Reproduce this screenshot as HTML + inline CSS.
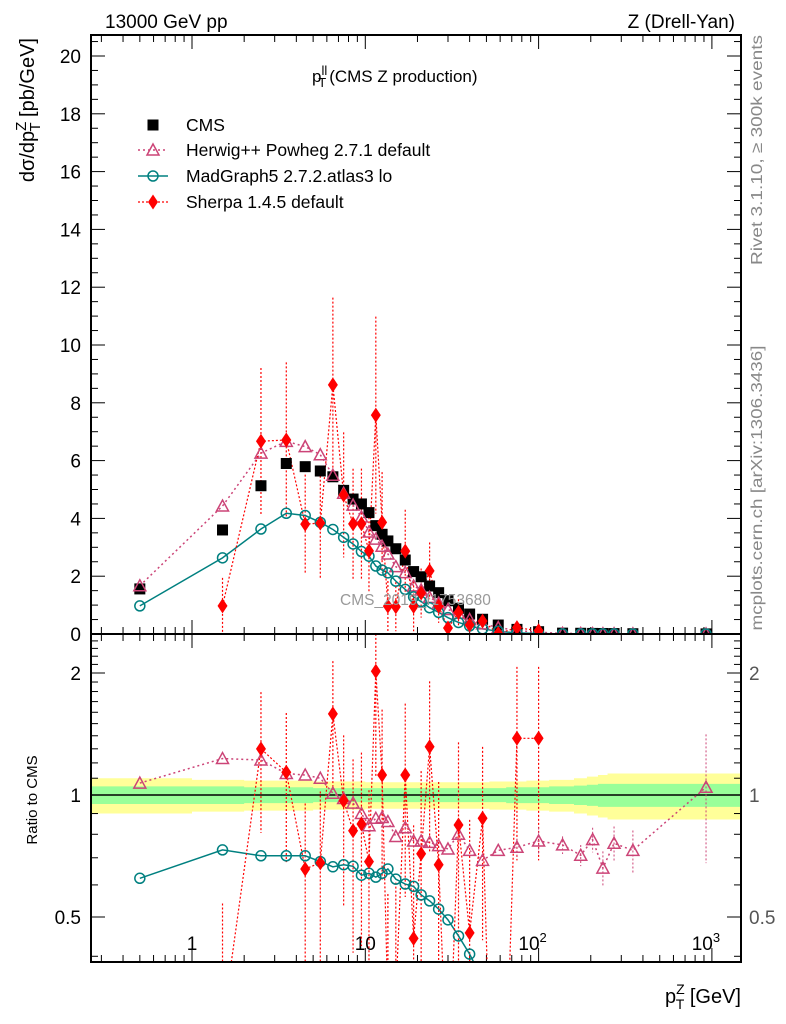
<!DOCTYPE html>
<html><head><meta charset="utf-8"><style>
html,body{margin:0;background:#fff;overflow:hidden;width:786px;height:1024px}
svg{display:block;font-family:"Liberation Sans",sans-serif}
</style></head><body>
<svg id="c" width="786" height="1024" viewBox="0 0 786 1024">
<defs>
<clipPath id="cm"><rect x="91" y="35" width="650" height="599"/></clipPath>
<clipPath id="cr"><rect x="91" y="634" width="650" height="328"/></clipPath>
</defs>
<g id="bands" clip-path="url(#cr)"></g>
<g id="grid"></g>
<g id="mainMarks" clip-path="url(#cm)"></g>
<g id="ratioMarks" clip-path="url(#cr)"></g>
<rect x="91" y="35" width="650" height="599" fill="none" stroke="#000" stroke-width="2"/>
<rect x="91" y="634" width="650" height="328" fill="none" stroke="#000" stroke-width="2"/>
<text x="105" y="28" font-size="19">13000 GeV pp</text>
<text x="735" y="28" font-size="19" text-anchor="end">Z (Drell-Yan)</text>
<text x="312" y="82" font-size="17">p<tspan font-size="13" dy="-7">ll</tspan><tspan font-size="13" dx="-9" dy="12">T</tspan><tspan dy="-5" dx="3">(CMS Z production)</tspan></text>
<text x="340" y="605" font-size="15.5" fill="#999">CMS_2019_I1753680</text>
<text transform="translate(762,150) rotate(-90)" font-size="16" fill="#888" text-anchor="middle" textLength="230" lengthAdjust="spacingAndGlyphs">Rivet 3.1.10, ≥ 300k events</text>
<text transform="translate(762,488) rotate(-90)" font-size="16" fill="#888" text-anchor="middle" textLength="285" lengthAdjust="spacingAndGlyphs">mcplots.cern.ch [arXiv:1306.3436]</text>
<text transform="translate(34,38) rotate(-90)" font-size="20" text-anchor="end">dσ/dp<tspan font-size="15" dy="-8">Z</tspan><tspan font-size="15" dx="-10" dy="14">T</tspan><tspan dy="-6"> [pb/GeV]</tspan></text>
<text transform="translate(37,800) rotate(-90)" font-size="15" text-anchor="middle">Ratio to CMS</text>
<text x="741" y="1003" font-size="20" text-anchor="end">p<tspan font-size="14" dy="-9">Z</tspan><tspan font-size="14" dx="-9" dy="15">T</tspan><tspan dy="-6"> [GeV]</tspan></text>
<g id="legend" font-size="17.5"></g>
</svg>
<script>
const xCenters=[0.5,1.5,2.5,3.5,4.5,5.5,6.5,7.5,8.5,9.5,10.5,11.5,12.5,13.5,15,17,19,21,23.5,26.5,30,34.5,40,47.5,58.5,75,100,137.5,175,205,235,272.5,350,925];
const binEdges=[0.2,1,2,3,4,5,6,7,8,9,10,11,12,13,14,16,18,20,22,25,28,32,37,43,52,65,85,115,160,190,220,250,300,400,1500];
const cmsValues=[1.56,3.6,5.13,5.9,5.79,5.64,5.44,4.97,4.67,4.5,4.2,3.75,3.45,3.22,2.95,2.56,2.16,1.98,1.66,1.43,1.15,0.89,0.69,0.51,0.31,0.16,0.08,0.03,0.025,0.02,0.018,0.015,0.01,0.004];
const herwigRatio=[1.07,1.23,1.22,1.13,1.12,1.10,1.01,0.98,0.955,0.90,0.84,0.876,0.88,0.86,0.79,0.83,0.77,0.77,0.764,0.75,0.736,0.80,0.73,0.69,0.73,0.743,0.77,0.753,0.71,0.776,0.66,0.76,0.73,1.045];
const herwigRelErr=[0,0,0,0,0,0,0,0,0,0,0,0,0,0,0,0,0,0,0,0,0,0,0,0,0,0.05,0.08,0.05,0.06,0.07,0.1,0.1,0.12,0.35];
const madgraphRatio=[0.623,0.732,0.708,0.708,0.708,0.685,0.665,0.673,0.667,0.634,0.641,0.627,0.641,0.657,0.62,0.603,0.595,0.567,0.548,0.523,0.492,0.449,0.405,0.35,0.3,0.25,0.2,0.2,0.2,0.2,0.2,0.2,0.2,0.2];
const sherpaRatio=[null,0.27,1.30,1.138,0.657,0.68,1.585,0.968,0.816,0.848,0.685,2.02,1.12,0.30,0.32,1.12,0.443,0.716,1.315,0.673,0.18,0.843,0.457,0.876,0.05,1.38,1.38];
const sherpaRelErr=[0,1,0.38,0.4,0.45,0.5,0.35,0.45,0.5,0.5,0.5,0.45,0.45,0.9,0.9,0.5,0.9,0.6,0.45,0.6,1,0.6,0.9,0.5,1,0.5,0.5];
const yellowErr=[0.10,0.09,0.085,0.085,0.085,0.08,0.08,0.08,0.08,0.08,0.075,0.075,0.075,0.075,0.075,0.075,0.075,0.075,0.075,0.075,0.075,0.075,0.075,0.075,0.08,0.08,0.085,0.09,0.1,0.11,0.12,0.13,0.13,0.13];
const greenErr=[0.05,0.05,0.045,0.045,0.045,0.04,0.04,0.04,0.04,0.04,0.04,0.04,0.04,0.04,0.04,0.04,0.04,0.04,0.04,0.04,0.04,0.04,0.04,0.04,0.04,0.045,0.045,0.05,0.055,0.06,0.065,0.065,0.065,0.065];
const mainYTicks=[0,2,4,6,8,10,12,14,16,18,20];
const ratioYTicks=[0.5,1,2];

const NS='http://www.w3.org/2000/svg';
const fx=v=>192+173.3*Math.log10(v);
const fy=v=>634-28.9*v;
const fr=r=>795-405.3*Math.log10(r);
function mk(tag,attrs,parent){const e=document.createElementNS(NS,tag);for(const k in attrs)e.setAttribute(k,attrs[k]);parent.appendChild(e);return e;}
const grid=document.getElementById('grid'),mm=document.getElementById('mainMarks'),rm=document.getElementById('ratioMarks'),bands=document.getElementById('bands'),leg=document.getElementById('legend');

function bandPath(err){let top='',bot='';for(let i=0;i<xCenters.length;i++){const x0=Math.max(91,fx(binEdges[i])),x1=Math.min(741,fx(binEdges[i+1]));top+=(i?'L':'M')+x0+','+fr(1+err[i])+'L'+x1+','+fr(1+err[i]);}
for(let i=xCenters.length-1;i>=0;i--){const x0=Math.max(91,fx(binEdges[i])),x1=Math.min(741,fx(binEdges[i+1]));bot+='L'+x1+','+fr(1-err[i])+'L'+x0+','+fr(1-err[i]);}return top+bot+'Z';}
let yb=mk('path',{d:bandPath(yellowErr),fill:'#ffff99'},bands);


let gb=mk('path',{d:bandPath(greenErr),fill:'#99ff99'},bands);


let one=mk('line',{x1:91,x2:741,y1:fr(1),y2:fr(1),stroke:'#000','stroke-width':1.5},bands);



for(let d=-1;d<=3;d++)for(let m=1;m<=9;m++){const v=m*Math.pow(10,d);const x=fx(v);if(x<92||x>740)continue;const L=m===1?14:7;
[[35,35+L],[634-L,634],[634,634+L],[962-L,962]].forEach(p=>mk('line',{x1:x,x2:x,y1:p[0],y2:p[1],stroke:'#000','stroke-width':1},grid));}
const xl=[[1,'1'],[10,'10'],[100,'10<tspan font-size="13" dy="-8">2</tspan>'],[1000,'10<tspan font-size="13" dy="-8">3</tspan>']];
xl.forEach(a=>{const t=mk('text',{x:fx(a[0])-(a[0]>10?6:0),y:950,'font-size':19,'text-anchor':'middle'},grid);t.innerHTML=a[1];

});
for(let v=0;v<=20.5;v+=0.5){const y=fy(v);const L=(Math.abs(v%2)<1e-6)?14:7;mk('line',{x1:91,x2:91+L,y1:y,y2:y,stroke:'#000'},grid);mk('line',{x1:741-L,x2:741,y1:y,y2:y,stroke:'#000'},grid);}
mainYTicks.forEach(v=>{const t=mk('text',{x:81,y:fy(v)+7,'font-size':19,'text-anchor':'end'},grid);t.textContent=v;

});
for(let v=0.4;v<=2.55;v+=0.1){const r=Math.round(v*10)/10;const y=fr(r);if(y<635||y>961)continue;const L=(r===0.5||r===1||r===2)?14:7;mk('line',{x1:91,x2:91+L,y1:y,y2:y,stroke:'#000'},grid);mk('line',{x1:741-L,x2:741,y1:y,y2:y,stroke:'#000'},grid);}
ratioYTicks.forEach(v=>{let t=mk('text',{x:81,y:fr(v)+7,'font-size':19,'text-anchor':'end'},grid);t.textContent=v;


t=mk('text',{x:749,y:fr(v)+7,'font-size':19,fill:'#555'},grid);t.textContent=v;

});

function tri(g,x,y,c,name){const e=mk('path',{d:`M${x},${y-6}L${x+6},${y+5}L${x-6},${y+5}Z`,fill:'none',stroke:c,'stroke-width':1.5},g);}
function circ(g,x,y,name){const e=mk('circle',{cx:x,cy:y,r:5,fill:'none',stroke:'#008080','stroke-width':1.5},g);}
function dia(g,x,y,name){const e=mk('path',{d:`M${x},${y-7.5}L${x+5},${y}L${x},${y+7.5}L${x-5},${y}Z`,fill:'#ff0000'},g);}
function sq(g,x,y,name){const e=mk('rect',{x:x-5.5,y:y-5.5,width:11,height:11,fill:'#000'},g);}
const HC='#cc4477';

function line(g,pts,c,dash,w,name){const p=mk('polyline',{points:pts.map(q=>q.join(',')).join(' '),fill:'none',stroke:c,'stroke-width':w},g);if(dash)p.setAttribute('stroke-dasharray',dash);}
const hMain=xCenters.map((x,i)=>[fx(x),fy(cmsValues[i]*herwigRatio[i])]);
const mMain=xCenters.map((x,i)=>[fx(x),fy(cmsValues[i]*madgraphRatio[i])]);
const sIdx=sherpaRatio.map((r,i)=>r===null?-1:i).filter(i=>i>=0);
sIdx.forEach(i=>{const v=cmsValues[i]*sherpaRatio[i],e=v*sherpaRelErr[i];const l=mk('line',{x1:fx(xCenters[i]),x2:fx(xCenters[i]),y1:fy(v+e),y2:fy(Math.max(v-e,-1)),stroke:'#ff0000','stroke-dasharray':'2,2','stroke-width':1.2},mm);});
line(mm,hMain,HC,'2,3',1.5,'herwig-line');
line(mm,mMain,'#008080',null,1.5,'madgraph-line');
line(mm,sIdx.map(i=>[fx(xCenters[i]),fy(cmsValues[i]*sherpaRatio[i])]),'#ff0000','2,2',1.2,'sherpa-line');
xCenters.forEach((x,i)=>sq(mm,fx(x),fy(cmsValues[i]),'cms-point'));
hMain.forEach(p=>tri(mm,p[0],p[1],HC,'herwig-point'));
mMain.forEach(p=>circ(mm,p[0],p[1],'madgraph-point'));
sIdx.forEach(i=>dia(mm,fx(xCenters[i]),fy(cmsValues[i]*sherpaRatio[i]),'sherpa-point'));

sIdx.forEach(i=>{const r=sherpaRatio[i],e=r*sherpaRelErr[i];const l=mk('line',{x1:fx(xCenters[i]),x2:fx(xCenters[i]),y1:fr(r+e),y2:fr(Math.max(r-e,0.01)),stroke:'#ff0000','stroke-dasharray':'2,2','stroke-width':1.2},rm);});
xCenters.forEach((x,i)=>{if(!herwigRelErr[i])return;const r=herwigRatio[i],e=r*herwigRelErr[i];const l=mk('line',{x1:fx(x),x2:fx(x),y1:fr(r+e),y2:fr(r-e),stroke:HC,'stroke-dasharray':'2,2'},rm);});
line(rm,xCenters.map((x,i)=>[fx(x),fr(herwigRatio[i])]),HC,'2,3',1.5,'herwig-ratio-line');
line(rm,xCenters.map((x,i)=>[fx(x),fr(madgraphRatio[i])]),'#008080',null,1.5,'madgraph-ratio-line');
line(rm,sIdx.map(i=>[fx(xCenters[i]),fr(sherpaRatio[i])]),'#ff0000','2,2',1.2,'sherpa-ratio-line');
xCenters.forEach((x,i)=>tri(rm,fx(x),fr(herwigRatio[i]),HC,'herwig-ratio-point'));
xCenters.forEach((x,i)=>circ(rm,fx(x),fr(madgraphRatio[i]),'madgraph-ratio-point'));
sIdx.forEach(i=>dia(rm,fx(xCenters[i]),fr(sherpaRatio[i]),'sherpa-ratio-point'));

const legY=[125,150,176,202];
const legText=['CMS','Herwig++ Powheg 2.7.1 default','MadGraph5 2.7.2.atlas3 lo','Sherpa 1.4.5 default'];
sq(leg,153,legY[0],'legend-cms-marker');
line(leg,[[138,legY[1]],[168,legY[1]]],HC,'2,3',1.5,'legend-herwig-line');tri(leg,153,legY[1],HC,'legend-herwig-marker');
line(leg,[[138,legY[2]],[168,legY[2]]],'#008080',null,1.5,'legend-madgraph-line');circ(leg,153,legY[2],'legend-madgraph-marker');
line(leg,[[138,legY[3]],[168,legY[3]]],'#ff0000','2,2',1.2,'legend-sherpa-line');dia(leg,153,legY[3],'legend-sherpa-marker');
legText.forEach((s,i)=>{const t=mk('text',{x:186,y:legY[i]+6,'font-size':17.5},leg);t.textContent=s;

});
</script>
</body></html>
